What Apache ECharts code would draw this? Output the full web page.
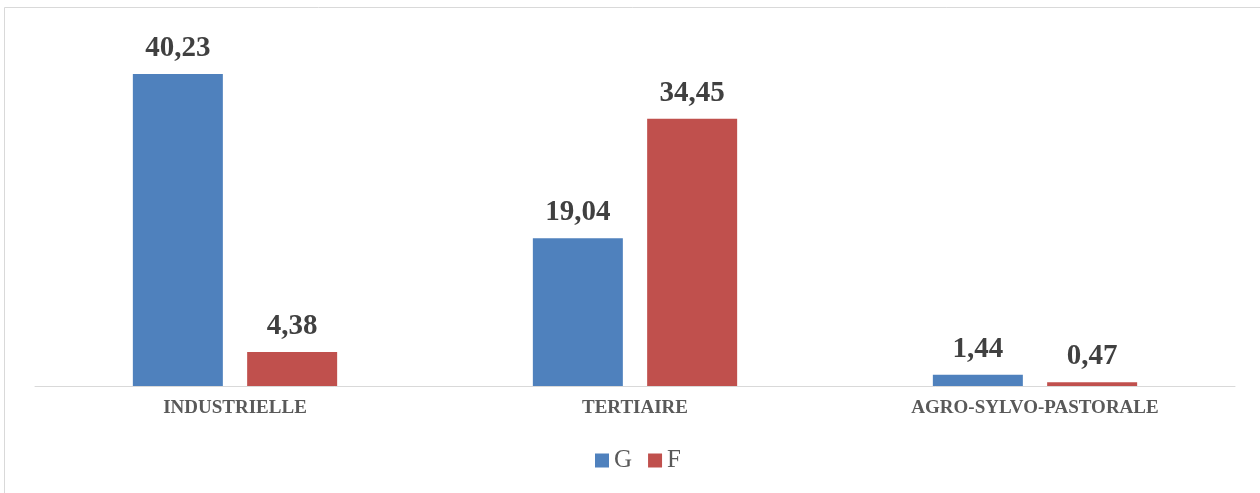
<!DOCTYPE html>
<html>
<head>
<meta charset="utf-8">
<script src="https://cdn.jsdelivr.net/npm/echarts@6/dist/echarts.min.js"></script>
<style>
html,body{margin:0;padding:0;background:#fff;}
#chart{width:1260px;height:493px;}
</style>
</head>
<body>
<div id="chart"></div>
<script>
const categories = ['INDUSTRIELLE', 'TERTIAIRE', 'AGRO-SYLVO-PASTORALE'];
const seriesG = [40.23, 19.04, 1.44];
const seriesF = [4.38, 34.45, 0.47];
const seriesNames = ['G', 'F'];

const chart = echarts.init(document.getElementById('chart'), null, {renderer: 'canvas'});
const fmt = p => p.value.toFixed(2).replace('.', ',');
const labelStyle = {
  show: true, position: 'top', distance: 11, formatter: fmt,
  fontFamily: '"Liberation Serif", "Times New Roman", serif',
  fontWeight: 'bold', fontSize: 29, color: '#404040'
};
chart.setOption({
  animation: false,
  backgroundColor: '#ffffff',
  graphic: [
    {type: 'line', shape: {x1: 4.5, y1: 7.5, x2: 1260, y2: 7.5}, style: {stroke: '#d9d9d9', lineWidth: 1}, silent: true},
    {type: 'line', shape: {x1: 4.5, y1: 7.5, x2: 4.5, y2: 493}, style: {stroke: '#d9d9d9', lineWidth: 1}, silent: true}
  ],
  grid: {left: 35, right: 25, top: 37, bottom: 107, containLabel: false},
  legend: {
    data: seriesNames,
    left: 590, top: 443,
    itemWidth: 14, itemHeight: 14, itemGap: 16,
    icon: 'rect',
    textStyle: {fontFamily: '"Liberation Serif", "Times New Roman", serif', fontSize: 25, color: '#595959'}
  },
  xAxis: {
    type: 'category', data: categories,
    axisLine: {lineStyle: {color: '#d9d9d9', width: 1}},
    axisTick: {show: false},
    axisLabel: {
      margin: 13, fontFamily: '"Liberation Serif", "Times New Roman", serif',
      fontWeight: 'bold', fontSize: 19, color: '#595959'
    }
  },
  yAxis: {
    type: 'value', min: 0, max: 45, interval: 5,
    show: false, splitLine: {show: false}
  },
  series: [
    {name: 'G', type: 'bar', data: seriesG, barWidth: 90, barGap: '27%',
     itemStyle: {color: '#4F81BD'}, label: labelStyle},
    {name: 'F', type: 'bar', data: seriesF, barWidth: 90, barGap: '27%',
     itemStyle: {color: '#C0504D'}, label: labelStyle}
  ]
});
</script>
</body>
</html>
